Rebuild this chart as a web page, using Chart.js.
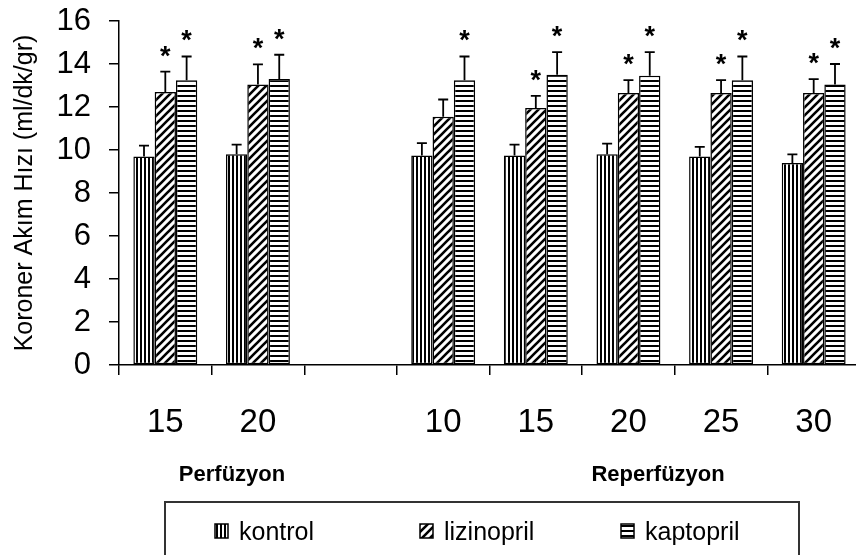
<!DOCTYPE html>
<html>
<head>
<meta charset="utf-8">
<script src="https://cdn.jsdelivr.net/npm/chart.js@4.4.1/dist/chart.umd.min.js"></script>
<style>
  html, body { margin: 0; padding: 0; background: #fff; overflow: hidden; }
  #wrap { width: 870px; height: 555px; }
</style>
</head>
<body>
<div id="wrap"><canvas id="myChart" width="870" height="555"></canvas></div>
<script>
// values
const categories = ['15', '20', '', '10', '15', '20', '25', '30'];
const kontrol = [9.7, 9.8, null, 9.75, 9.75, 9.8, 9.7, 9.4];
const kontrolErr = [0.5, 0.45, null, 0.57, 0.5, 0.5, 0.45, 0.4];
const lizinopril = [12.7, 13.05, null, 11.55, 11.95, 12.65, 12.65, 12.65];
const lizinoprilErr = [0.95, 0.93, null, 0.8, 0.57, 0.6, 0.6, 0.65];
const kaptopril = [13.25, 13.3, null, 13.25, 13.5, 13.45, 13.25, 13.05];
const kaptoprilErr = [1.1, 1.13, null, 1.1, 1.05, 1.1, 1.1, 0.95];
// 1 = significance star above the error bar
const kontrolSig = [0, 0, 0, 0, 0, 0, 0, 0];
const lizinoprilSig = [1, 1, 0, 0, 1, 1, 1, 1];
const kaptoprilSig = [1, 1, 0, 1, 1, 1, 1, 1];
const yTicks = [0, 2, 4, 6, 8, 10, 12, 14, 16];

const FONT = "'Liberation Sans', Arial, sans-serif";

function makePattern(kind) {
    const c = document.createElement('canvas');
    const s = kind === 'diag' ? 8 : (kind === 'vert' ? 4 : 5);
    c.width = s; c.height = s;
    const g = c.getContext('2d');
    g.fillStyle = '#fff';
    g.fillRect(0, 0, s, s);
    g.fillStyle = '#000';
    g.strokeStyle = '#000';
    if (kind === 'vert') {
        g.fillRect(0, 0, 2, s);
    } else if (kind === 'horz') {
        g.fillRect(0, 0, s, 2);
    } else {
        g.lineWidth = 2.6;
        g.beginPath();
        g.moveTo(0, s); g.lineTo(s, 0);
        g.moveTo(-2, 2); g.lineTo(2, -2);
        g.moveTo(s - 2, s + 2); g.lineTo(s + 2, s - 2);
        g.stroke();
    }
    return g.createPattern(c, 'repeat');
}

const patterns = {
    kontrol: makePattern('vert'),
    lizinopril: makePattern('diag'),
    kaptopril: makePattern('horz')
};

const errors = [kontrolErr, lizinoprilErr, kaptoprilErr];
const stars = [kontrolSig, lizinoprilSig, kaptoprilSig];

const errorBars = {
    id: 'errorBars',
    afterDatasetsDraw(chart) {
        const ctx = chart.ctx;
        const y = chart.scales.y;
        ctx.save();
        ctx.strokeStyle = '#000';
        ctx.lineWidth = 1.8;
        ctx.fillStyle = '#000';
        ctx.font = 'bold 27px ' + FONT;
        ctx.textAlign = 'center';
        ctx.textBaseline = 'alphabetic';
        chart.data.datasets.forEach((ds, di) => {
            const meta = chart.getDatasetMeta(di);
            meta.data.forEach((bar, i) => {
                const v = ds.data[i];
                if (v == null) return;
                const top = y.getPixelForValue(v + errors[di][i]);
                ctx.beginPath();
                ctx.moveTo(bar.x, bar.y);
                ctx.lineTo(bar.x, top);
                ctx.moveTo(bar.x - 5, top);
                ctx.lineTo(bar.x + 5, top);
                ctx.stroke();
                if (stars[di][i]) {
                    ctx.fillText('*', bar.x, top - 7);
                }
            });
        });
        ctx.restore();
    }
};

const extras = {
    id: 'extras',
    afterDraw(chart) {
        const ctx = chart.ctx;
        const x = chart.scales.x;
        ctx.save();
        ctx.fillStyle = '#000';
        ctx.font = 'bold 22px ' + FONT;
        ctx.textAlign = 'center';
        ctx.textBaseline = 'alphabetic';
        ctx.fillText('Perfüzyon', x.getPixelForValue(0.72), 481);
        ctx.fillText('Reperfüzyon', x.getPixelForValue(5.32), 481);

        // legend box
        ctx.strokeStyle = '#333';
        ctx.lineWidth = 2;
        ctx.strokeRect(165, 502, 634, 70);
        const items = [
            ['kontrol', patterns.kontrol, 215],
            ['lizinopril', patterns.lizinopril, 420],
            ['kaptopril', patterns.kaptopril, 621]
        ];
        ctx.font = '25px ' + FONT;
        ctx.textAlign = 'left';
        items.forEach(([label, pat, lx]) => {
            ctx.fillStyle = pat;
            ctx.fillRect(lx, 524, 13, 14);
            ctx.lineWidth = 1.5;
            ctx.strokeStyle = '#000';
            ctx.strokeRect(lx, 524, 13, 14);
            ctx.fillStyle = '#000';
            ctx.fillText(label, lx + 24, 540);
        });
        ctx.restore();
    }
};

function barSet(label, data) {
    return {
        label: label,
        data: data,
        backgroundColor: patterns[label],
        borderColor: '#000',
        borderWidth: 1.5,
        borderSkipped: false,
        categoryPercentage: 0.69,
        barPercentage: 1.0
    };
}

const config = {
    type: 'bar',
    data: {
        labels: categories,
        datasets: [
            barSet('kontrol', kontrol),
            barSet('lizinopril', lizinopril),
            barSet('kaptopril', kaptopril)
        ]
    },
    options: {
        responsive: false,
        animation: false,
        layout: { padding: { top: 21, right: 10, left: 0, bottom: 0 } },
        plugins: {
            legend: { display: false },
            tooltip: { enabled: false }
        },
        scales: {
            x: {
                grid: {
                    drawOnChartArea: false,
                    offset: true,
                    tickLength: 10,
                    color: '#000',
                    lineWidth: 1.5
                },
                border: { color: '#000', width: 1.5 },
                ticks: {
                    color: '#000',
                    font: { family: FONT, size: 33 },
                    padding: 28,
                    maxRotation: 0,
                    autoSkip: false
                },
                afterFit(scale) { scale.height = 190; }
            },
            y: {
                min: 0,
                max: 16,
                afterBuildTicks(scale) {
                    scale.ticks = yTicks.map(v => ({ value: v }));
                },
                grid: {
                    drawOnChartArea: false,
                    tickLength: 10,
                    color: '#000',
                    lineWidth: 1.5
                },
                border: { color: '#000', width: 1.5 },
                ticks: {
                    color: '#000',
                    font: { family: FONT, size: 31 },
                    padding: 18
                },
                title: {
                    display: true,
                    text: 'Koroner Akım Hızı (ml/dk/gr)',
                    color: '#000',
                    font: { family: FONT, size: 25 },
                    padding: { top: 10, bottom: 0 }
                },
                afterFit(scale) {
                    scale.width = 119;
                    scale.paddingTop = 0;
                    scale.paddingBottom = 0;
                }
            }
        }
    },
    plugins: [errorBars, extras]
};

new Chart(document.getElementById('myChart'), config);
</script>
</body>
</html>
